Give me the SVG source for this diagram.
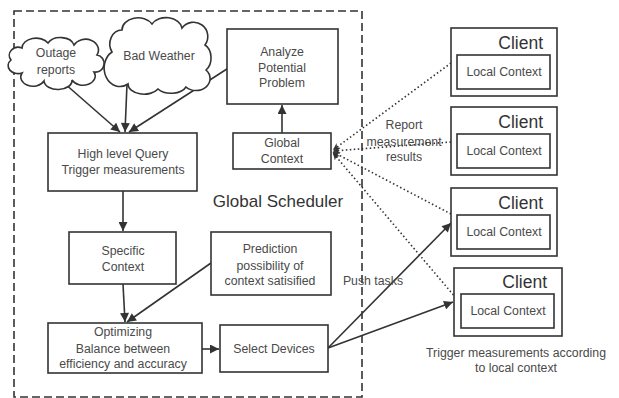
<svg xmlns="http://www.w3.org/2000/svg" width="619" height="398" viewBox="0 0 619 398">
<style>
.box{fill:#fff;stroke:#333;stroke-width:1.6}
.t{font-family:"Liberation Sans",Arial,sans-serif;font-size:12.3px;fill:#4a4a4a;text-anchor:middle}
.cl{font-family:"Liberation Sans",Arial,sans-serif;font-size:17.5px;fill:#333;text-anchor:end}
.ln{fill:none;stroke:#333;stroke-width:1.6}
.dot{fill:none;stroke:#333;stroke-width:1.6;stroke-dasharray:1.5 2.5}
</style>
<defs>
<marker id="ah" viewBox="0 0 10 10" refX="10" refY="5" markerWidth="10" markerHeight="9" markerUnits="userSpaceOnUse" orient="auto">
<path d="M0,0 L10,5 L0,10 Z" fill="#333"/>
</marker>
<marker id="dh" viewBox="0 0 10 10" refX="10" refY="5" markerWidth="11" markerHeight="7" markerUnits="userSpaceOnUse" orient="auto">
<path d="M0,0 L10,5 L0,10 L3,5 Z" fill="#333"/>
</marker>
</defs>
<rect x="14" y="11" width="348" height="386" fill="none" stroke="#333" stroke-width="1.6" stroke-dasharray="8 4"/>
<text x="278" y="207" font-family="'Liberation Sans',Arial,sans-serif" font-size="17" fill="#333" text-anchor="middle">Global Scheduler</text>
<g id="connectors">
<path class="ln" d="M64,83 L120,132" marker-end="url(#ah)"/>
<path class="ln" d="M127,84 L125,132" marker-end="url(#ah)"/>
<path class="ln" d="M230,67 L129,132" marker-end="url(#ah)"/>
<path class="ln" d="M282,133 L282,105" marker-end="url(#ah)"/>
<path class="ln" d="M123,191 L123,231" marker-end="url(#ah)"/>
<path class="ln" d="M123,284 L125,322" marker-end="url(#ah)"/>
<path class="ln" d="M211,263 L127,322" marker-end="url(#ah)"/>
<path class="ln" d="M202,349 L219,349" marker-end="url(#ah)"/>
<path class="ln" d="M328,348 L451,223" marker-end="url(#ah)"/>
<path class="ln" d="M328,348 L453,302" marker-end="url(#ah)"/>
<path class="dot" d="M451,63 L333,150" marker-end="url(#dh)"/>
<path class="dot" d="M451,142 L333,151" marker-end="url(#dh)"/>
<path class="dot" d="M451,214 L333,152" marker-end="url(#dh)"/>
<path class="dot" d="M456,298 L333,153" marker-end="url(#dh)"/>
<text class="t" x="404" y="129">Report</text>
<text class="t" x="404" y="146">measurement</text>
<text class="t" x="404" y="161">results</text>
<text class="t" x="373" y="285" text-anchor="start">Push tasks</text>
</g>
<g id="outage">
<path class="box" d="M11,60 A9,8 0 0 1 22,48 A14,10 0 0 1 48,43 A14,10 0 0 1 74,45 A12,10 0 0 1 97,55 A8,8 0 0 1 94,72 A12,9 0 0 1 72,80 A14,9 0 0 1 44,81 A12,9 0 0 1 22,73 A10,8 0 0 1 11,60 Z"/>
<text class="t" x="56" y="57">Outage</text>
<text class="t" x="56" y="74">reports</text>
</g>
<g id="weather">
<path class="box" d="M112,52 A12,14 0 0 1 122,30 A16,12 0 0 1 152,24 A16,12 0 0 1 182,28 A14,14 0 0 1 205,45 A10,14 0 0 1 206,70 A14,12 0 0 1 186,87 A16,10 0 0 1 158,89 A16,10 0 0 1 128,84 A12,14 0 0 1 112,52 Z"/>
<text class="t" x="159" y="60">Bad Weather</text>
</g>
<g id="analyze">
<rect class="box" x="227" y="29" width="111" height="75"/>
<text class="t" x="282" y="56">Analyze</text>
<text class="t" x="282" y="72">Potential</text>
<text class="t" x="282" y="87">Problem</text>
</g>
<g id="global">
<rect class="box" x="233" y="133" width="98" height="36"/>
<text class="t" x="282" y="147">Global</text>
<text class="t" x="282" y="163">Context</text>
</g>
<g id="query">
<rect class="box" x="48" y="133" width="149" height="58"/>
<text class="t" x="123" y="158">High level Query</text>
<text class="t" x="123" y="174">Trigger measurements</text>
</g>
<g id="specific">
<rect class="box" x="69" y="232" width="107" height="52"/>
<text class="t" x="123" y="255">Specific</text>
<text class="t" x="123" y="271">Context</text>
</g>
<g id="prediction">
<rect class="box" x="211" y="232" width="120" height="63"/>
<text class="t" x="270" y="253">Prediction</text>
<text class="t" x="270" y="270">possibility of</text>
<text class="t" x="270" y="285">context satisified</text>
</g>
<g id="optimizing">
<rect class="box" x="48" y="323" width="154" height="50"/>
<text class="t" x="123" y="336">Optimizing</text>
<text class="t" x="123" y="353">Balance between</text>
<text class="t" x="123" y="368">efficiency and accuracy</text>
</g>
<g id="select">
<rect class="box" x="220" y="325" width="108" height="47"/>
<text class="t" x="274" y="353">Select Devices</text>
</g>
<g id="client1">
<rect class="box" x="451" y="28" width="106" height="68"/>
<text class="cl" x="543" y="49">Client</text>
<rect class="box" x="457" y="55" width="93" height="34"/>
<text class="t" x="504" y="76">Local Context</text>
</g>
<g id="client2">
<rect class="box" x="451" y="107" width="106" height="68"/>
<text class="cl" x="543" y="128">Client</text>
<rect class="box" x="457" y="134" width="93" height="34"/>
<text class="t" x="504" y="155">Local Context</text>
</g>
<g id="client3">
<rect class="box" x="451" y="188" width="106" height="68"/>
<text class="cl" x="543" y="209">Client</text>
<rect class="box" x="457" y="215" width="93" height="34"/>
<text class="t" x="504" y="236">Local Context</text>
</g>
<g id="client4">
<rect class="box" x="454" y="268" width="108" height="68"/>
<text class="cl" x="547" y="288">Client</text>
<rect class="box" x="461" y="294" width="93" height="34"/>
<text class="t" x="508" y="315">Local Context</text>
</g>
<text class="t" x="516" y="357">Trigger measurements according</text>
<text class="t" x="516" y="372">to local context</text>
</svg>
